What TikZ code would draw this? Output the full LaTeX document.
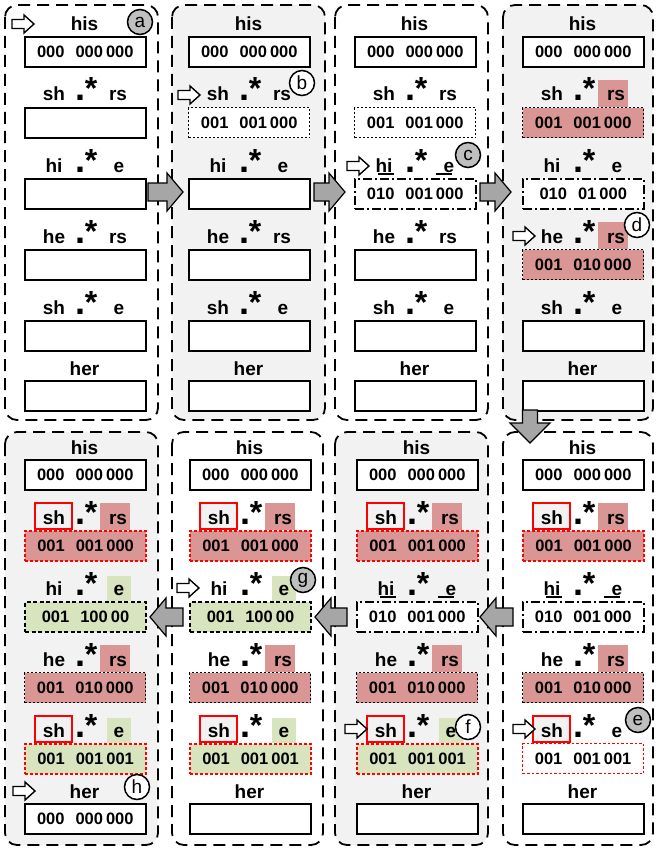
\documentclass[tikz,border=0pt]{standalone}
\usepackage{fontspec}
\setmainfont{Liberation Sans}
\definecolor{hlred}{RGB}{217,150,148}
\definecolor{hlgreen}{RGB}{215,228,189}
\definecolor{pnl}{RGB}{242,242,242}
\definecolor{arrg}{RGB}{166,166,166}
\definecolor{circg}{RGB}{191,191,191}
\newcommand\numfont{\fontsize{16.5}{16.5}\selectfont\bfseries}
\newcommand\lblfont{\fontsize{19}{19}\selectfont\bfseries}
\newcommand\dotfont{\fontsize{36}{36}\selectfont\bfseries}
\newcommand\starfont{\fontsize{32}{32}\selectfont\bfseries}
\newcommand\circfont{\fontsize{19}{19}\selectfont}
\newcommand\nm[3]{#1\hspace{11pt}#2\hspace{3pt}#3}
\tikzset{
 panelA/.style={line width=1.8pt, dash pattern=on 12pt off 7pt, rounded corners=12pt},
 boxbase/.style={minimum width=121pt, minimum height=30pt, anchor=north west, inner sep=0pt, font=\numfont},
 sbox/.style={boxbase, draw, line width=1.6pt, fill=white},
 dotbox/.style={boxbase, draw, line width=1.4pt, dash pattern=on 2.2pt off 1.8pt, fill=white},
 ddbox/.style={boxbase, draw, line width=1.5pt, dash pattern=on 9pt off 3pt on 2pt off 3pt, fill=white},
 rdot/.style={boxbase, draw=red, line width=2.2pt, dash pattern=on 3pt off 2pt, fill=white},
 rthin/.style={boxbase, draw=red, line width=1.3pt, dash pattern=on 2.5pt off 2pt, fill=white},
 bdash/.style={boxbase, draw, line width=2pt, dash pattern=on 4pt off 2.5pt, fill=white},
 lbl/.style={inner sep=0pt, anchor=base, font=\lblfont},
 dotf/.style={inner sep=0pt, anchor=base, font=\dotfont},
 starf/.style={inner sep=0pt, anchor=base, font=\starfont},
 bigarr/.style={draw, fill=arrg, line width=1.2pt, line join=miter},
 smarr/.style={draw, fill=white, line width=1.4pt, line join=miter},
 lcirc/.style={circle, draw, line width=1.5pt, minimum size=25pt, inner sep=0pt, font=\circfont},
}
% regex label row: #1 name prefix, #2 L, #3 T, #4 word1, #5 word2, #6 x offset of word2
\newcommand\rx[6]{%
 \node[lbl] (#1a) at (#2+30,#3-6) {#4};
 \node[dotf] (#1b) at (#2+56,#3-6) {.};
 \node[starf] (#1c) at (#2+67,#3-7) {*};
 \node[lbl] (#1d) at (#2+#6,#3-6) {#5};}
\newcommand\labelset[3]{%
 \node[lbl] (#1ha) at (#2+60.5,#3-5) {his};
 \rx{#1s}{#2}{#3+71}{sh}{rs}{94}
 \rx{#1i}{#2}{#3+142}{hi}{e}{95}
 \rx{#1e}{#2}{#3+213}{he}{rs}{94}
 \rx{#1t}{#2}{#3+284}{sh}{e}{95}
 \node[lbl] (#1hb) at (#2+60.5,#3+339) {her};}
\newcommand\hlr[2]{\fill[hlred] (#1+76,#2-27) rectangle (#1+106,#2);}
\newcommand\hlg[2]{\fill[hlgreen] (#1+83,#2-25) rectangle (#1+107,#2);}
\newcommand\shbox[2]{\draw[red, line width=2pt, fill=pnl] (#1+11,#2-27) rectangle (#1+48,#2-1);}
\newcommand\uln[2]{\draw[line width=1.5pt] (#1+24,#2-4) -- (#1+40,#2-4); \draw[line width=1.5pt] (#1+82,#2-4) -- (#1+98,#2-4);}
\newcommand\sarr[2]{\draw[smarr] (#1,#2-4.5) -- (#1+12,#2-4.5) -- (#1+12,#2-9) -- (#1+22,#2) -- (#1+12,#2+9) -- (#1+12,#2+4.5) -- (#1,#2+4.5) -- cycle;}
\newcommand\rarr[3]{\draw[bigarr] (#1,#3-9) -- (#2-16,#3-9) -- (#2-16,#3-19) -- (#2,#3) -- (#2-16,#3+19) -- (#2-16,#3+9) -- (#1,#3+9) -- cycle;}
\newcommand\larr[3]{\draw[bigarr] (#1,#3-9) -- (#2+16,#3-9) -- (#2+16,#3-19) -- (#2,#3) -- (#2+16,#3+19) -- (#2+16,#3+9) -- (#1,#3+9) -- cycle;}
\begin{document}
\begin{tikzpicture}[x=1pt,y=-1pt]
\useasboundingbox (0,0) rectangle (656,848);
% panels
\draw[panelA] (5,5) rectangle (158,420);
\draw[panelA, fill=pnl] (172,5) rectangle (325,420);
\draw[panelA] (335,5) rectangle (488,420);
\draw[panelA, fill=pnl] (503,5) rectangle (653,420);
\draw[panelA, fill=pnl] (5,432) rectangle (158,845);
\draw[panelA] (172,432) rectangle (323,845);
\draw[panelA, fill=pnl] (335,432) rectangle (488,845);
\draw[panelA] (503,432) rectangle (653,845);

% ---------- panel a ----------
\labelset{pa}{24}{36}
\node[sbox] (pab1) at (24,36) {\nm{000}{000}{000}};
\node[sbox] (pab2) at (24,107) {};
\node[sbox] (pab3) at (24,178) {};
\node[sbox] (pab4) at (24,249) {};
\node[sbox] (pab5) at (24,320) {};
\node[sbox] (pab6) at (24,380) {};
\sarr{12}{24}
\node[lcirc, fill=circg] (ca) at (140,22) {a};

% ---------- panel b ----------
\labelset{pb}{188}{36}
\node[sbox] (pbb1) at (188,36) {\nm{000}{000}{000}};
\node[dotbox] (pbb2) at (188,107) {\nm{001}{001}{000}};
\node[sbox] (pbb3) at (188,178) {};
\node[sbox] (pbb4) at (188,249) {};
\node[sbox] (pbb5) at (188,320) {};
\node[sbox] (pbb6) at (188,380) {};
\sarr{178}{95}
\node[lcirc, fill=white] (cb) at (302,83) {b};

% ---------- panel c ----------
\labelset{pc}{354}{36}
\uln{354}{178}
\node[sbox] (pcb1) at (354,36) {\nm{000}{000}{000}};
\node[dotbox] (pcb2) at (354,107) {\nm{001}{001}{000}};
\node[ddbox] (pcb3) at (354,178) {\nm{010}{001}{000}};
\node[sbox] (pcb4) at (354,249) {};
\node[sbox] (pcb5) at (354,320) {};
\node[sbox] (pcb6) at (354,380) {};
\sarr{347}{166}
\node[lcirc, fill=circg] (cc) at (468,155) {c};

% ---------- panel d ----------
\hlr{522}{107}
\hlr{522}{249}
\labelset{pd}{522}{36}
\node[sbox] (pdb1) at (522,36) {\nm{000}{000}{000}};
\node[dotbox, fill=hlred] (pdb2) at (522,107) {\nm{001}{001}{000}};
\node[ddbox] (pdb3) at (522,178) {\nm{010}{01}{000}};
\node[dotbox, fill=hlred] (pdb4) at (522,249) {\nm{001}{010}{000}};
\node[sbox] (pdb5) at (522,320) {};
\node[sbox] (pdb6) at (522,380) {};
\sarr{513}{236}
\node[lcirc, fill=white] (cd) at (637,225) {d};

% ---------- panel e ----------
\hlr{522}{530}
\hlr{522}{672}
\shbox{522}{530}
\shbox{522}{743}
\labelset{pe}{522}{459}
\uln{522}{601}
\node[sbox] (peb1) at (522,459) {\nm{000}{000}{000}};
\node[rdot, fill=hlred] (peb2) at (522,530) {\nm{001}{001}{000}};
\node[ddbox] (peb3) at (522,601) {\nm{010}{001}{000}};
\node[dotbox, fill=hlred] (peb4) at (522,672) {\nm{001}{010}{000}};
\node[rthin] (peb5) at (522,743) {\nm{001}{001}{001}};
\node[sbox] (peb6) at (522,803) {};
\sarr{513}{729}
\node[lcirc, fill=circg] (ce) at (638,720) {e};

% ---------- panel f ----------
\hlr{356}{530}
\hlr{356}{672}
\hlg{356}{743}
\shbox{356}{530}
\shbox{356}{743}
\labelset{pf}{356}{459}
\uln{356}{601}
\node[sbox] (pfb1) at (356,459) {\nm{000}{000}{000}};
\node[rdot, fill=hlred] (pfb2) at (356,530) {\nm{001}{001}{000}};
\node[ddbox] (pfb3) at (356,601) {\nm{010}{001}{000}};
\node[dotbox, fill=hlred] (pfb4) at (356,672) {\nm{001}{010}{000}};
\node[rdot, fill=hlgreen] (pfb5) at (356,743) {\nm{001}{001}{001}};
\node[sbox] (pfb6) at (356,803) {};
\sarr{345}{729}
\node[lcirc, fill=white] (cf) at (468,727) {f};

% ---------- panel g ----------
\hlr{189}{530}
\hlr{189}{672}
\hlg{189}{601}
\hlg{189}{743}
\shbox{189}{530}
\shbox{189}{743}
\labelset{pg}{189}{459}
\node[sbox] (pgb1) at (189,459) {\nm{000}{000}{000}};
\node[rdot, fill=hlred] (pgb2) at (189,530) {\nm{001}{001}{000}};
\node[bdash, fill=hlgreen] (pgb3) at (189,601) {\nm{001}{100}{00}};
\node[dotbox, fill=hlred] (pgb4) at (189,672) {\nm{001}{010}{000}};
\node[rdot, fill=hlgreen] (pgb5) at (189,743) {\nm{001}{001}{001}};
\node[sbox] (pgb6) at (189,803) {};
\sarr{177}{588}
\node[lcirc, fill=circg] (cg) at (303,580) {g};

% ---------- panel h ----------
\hlr{24}{530}
\hlr{24}{672}
\hlg{24}{601}
\hlg{24}{743}
\shbox{24}{530}
\shbox{24}{743}
\labelset{ph}{24}{459}
\node[sbox] (phb1) at (24,459) {\nm{000}{000}{000}};
\node[rdot, fill=hlred] (phb2) at (24,530) {\nm{001}{001}{000}};
\node[bdash, fill=hlgreen] (phb3) at (24,601) {\nm{001}{100}{00}};
\node[dotbox, fill=hlred] (phb4) at (24,672) {\nm{001}{010}{000}};
\node[rdot, fill=hlgreen] (phb5) at (24,743) {\nm{001}{001}{001}};
\node[sbox] (phb6) at (24,803) {\nm{000}{000}{000}};
\sarr{13}{791}
\node[lcirc, fill=white] (ch) at (137,787) {h};

% ---------- big arrows ----------
\rarr{148}{183}{192}
\rarr{314}{345}{192}
\rarr{480}{511}{192}
\draw[bigarr] (522.5,410) -- (537.5,410) -- (537.5,423) -- (550,423) -- (530,443) -- (510,423) -- (522.5,423) -- cycle;
\larr{513}{480}{617}
\larr{347}{315}{617}
\larr{183}{150}{617}
\end{tikzpicture}
\end{document}
